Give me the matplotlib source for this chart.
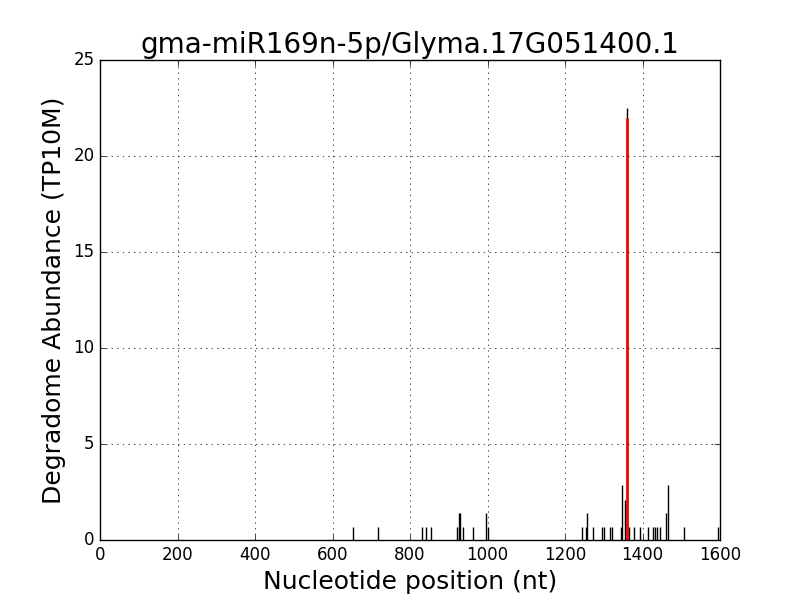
import matplotlib
matplotlib.use('Agg')
import matplotlib.pyplot as plt

# positions (nt) and abundances (TP10M) of degradome reads
positions = [654, 718, 832, 840, 855, 922, 927, 930, 938, 963, 996, 1001,
             1244, 1255, 1258, 1273, 1296, 1301, 1316, 1322, 1345, 1348,
             1356, 1359, 1365, 1379, 1394, 1414, 1428, 1432, 1437, 1445,
             1461, 1466, 1508, 1596]
abundance = [0.7, 0.7, 0.7, 0.7, 0.7, 0.7, 1.4, 1.4, 0.7, 0.7, 1.4, 0.7,
             0.7, 0.7, 1.4, 0.7, 0.7, 0.7, 0.7, 0.7, 0.7, 2.85,
             2.1, 22.5, 0.7, 0.7, 0.7, 0.7, 0.7, 0.7, 0.7, 0.7,
             1.4, 2.85, 0.7, 0.7]

# predicted cleavage site
site = 1359
site_value = 22.0

plt.style.use('classic')
fig = plt.figure(figsize=(8, 6), dpi=100)
ax = fig.add_subplot(111)
ax.vlines(positions, 0, abundance, colors='k', linewidth=1)
ax.vlines([site], 0, [site_value], colors='r', linewidth=2)
ax.set_xlim(0, 1600)
ax.set_ylim(0, 25)
ax.grid(True)
ax.set_title('gma-miR169n-5p/Glyma.17G051400.1', fontsize=20)
ax.set_xlabel('Nucleotide position (nt)', fontsize=18)
ax.set_ylabel('Degradome Abundance (TP10M)', fontsize=18)
fig.savefig('out.png', dpi=100)
